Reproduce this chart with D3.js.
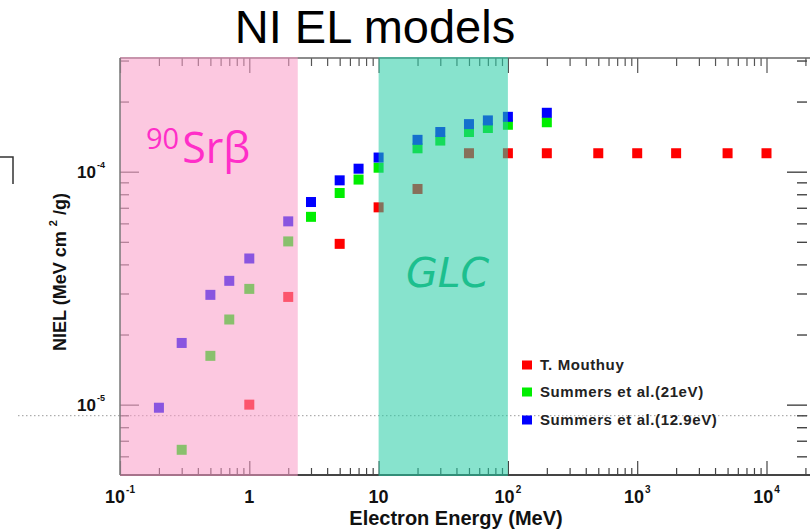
<!DOCTYPE html>
<html>
<head>
<meta charset="utf-8">
<script src="https://cdn.jsdelivr.net/npm/d3@7"></script>
<style>
  html, body { margin: 0; padding: 0; background: #fff; }
  svg { display: block; }
</style>
</head>
<body>
<svg id="chart" width="810" height="529"></svg>
<script>
// ---------------- data ----------------
const seriesNames = ["T. Mouthuy", "Summers et al.(21eV)", "Summers et al.(12.9eV)"];
const seriesColors = ["#ff0000", "#00ee00", "#0000ff"];

const energyRed = [1, 2, 5, 10, 20, 50, 100, 200, 500, 1000, 2000, 5000, 10000];
const nielRed = [1.0e-5, 2.9e-5, 4.9e-5, 7.03e-5, 8.43e-5, 1.2e-4, 1.2e-4, 1.2e-4, 1.2e-4, 1.2e-4, 1.2e-4, 1.2e-4, 1.2e-4];

const energyGreen = [0.3, 0.5, 0.7, 1, 2, 3, 5, 7, 10, 20, 30, 50, 70, 100, 200];
const nielGreen = [6.4e-6, 1.62e-5, 2.32e-5, 3.14e-5, 5.02e-5, 6.4e-5, 8.1e-5, 9.25e-5, 1.04e-4, 1.26e-4, 1.36e-4, 1.48e-4, 1.54e-4, 1.59e-4, 1.63e-4];

const energyBlue = [0.2, 0.3, 0.5, 0.7, 1, 2, 3, 5, 7, 10, 20, 30, 50, 70, 100, 200];
const nielBlue = [0.97e-5, 1.84e-5, 2.96e-5, 3.4e-5, 4.24e-5, 6.12e-5, 7.41e-5, 9.18e-5, 1.03e-4, 1.15e-4, 1.37e-4, 1.48e-4, 1.6e-4, 1.66e-4, 1.72e-4, 1.79e-4];

const regionNames = ["90Sr\u03b2", "GLC"];
const regionStart = [0.1, 10];
const regionEnd = [2.37, 100];

const xMajorTicks = [0.1, 1, 10, 100, 1000, 10000];
const xTickBase = ["10", "1", "10", "10", "10", "10"];
const xTickExp = ["-1", "", "", "2", "3", "4"];
const yMajorTicks = [1e-5, 1e-4];
const yTickExp = ["-5", "-4"];

// ---------------- layout ----------------
const svg = d3.select("#chart");
const L = 120, R = 809, T = 58, B = 475;
const decadePx = 129.3;
const x = d3.scaleLog().domain([0.1, Math.pow(10, (R - L) / decadePx - 1)]).range([L, R]);
const y = d3.scaleLog().domain([Math.pow(10, -5.302), Math.pow(10, -3.512)]).range([B, T]);

function minorTicks(scale) {
  const [a, b] = scale.domain();
  const out = [];
  for (let e = Math.floor(Math.log10(a)); e <= Math.ceil(Math.log10(b)); e++) {
    for (let m = 2; m <= 9; m++) {
      const v = m * Math.pow(10, e);
      if (v >= a && v <= b) out.push(v);
    }
  }
  return out;
}
const xMinor = minorTicks(x), yMinor = minorTicks(y);

// decorative bracket at left edge and dotted guide
svg.append("path").attr("d", "M0,157 H13 V184").attr("fill", "none").attr("stroke", "#333").attr("stroke-width", 1.5);
svg.append("line").attr("x1", 18).attr("x2", 810).attr("y1", 415.7).attr("y2", 415.7)
  .attr("stroke", "#9a9a9a").attr("stroke-width", 1).attr("stroke-dasharray", "1.5,2.5");

// ---------------- axes (ticks inward) ----------------
const axisG = svg.append("g");
function styleAxis(g, color, width) {
  g.select(".domain").remove();
  g.selectAll("line").attr("stroke", color).attr("stroke-width", width);
}
axisG.append("g").attr("transform", `translate(0,${B})`)
  .call(d3.axisBottom(x).tickValues(xMajorTicks).tickSize(-14).tickFormat("")).call(g => styleAxis(g, "#444", 1.2));
axisG.append("g").attr("transform", `translate(0,${B})`)
  .call(d3.axisBottom(x).tickValues(xMinor).tickSize(-7).tickFormat("")).call(g => styleAxis(g, "#444", 1.2));
axisG.append("g").attr("transform", `translate(0,${T})`)
  .call(d3.axisTop(x).tickValues(xMajorTicks).tickSize(-15).tickFormat("")).call(g => styleAxis(g, "#555", 1.2));
axisG.append("g").attr("transform", `translate(0,${T})`)
  .call(d3.axisTop(x).tickValues(xMinor).tickSize(-8).tickFormat("")).call(g => styleAxis(g, "#555", 1.2));
axisG.append("g").attr("transform", `translate(${L},0)`)
  .call(d3.axisLeft(y).tickValues(yMajorTicks).tickSize(-19).tickFormat("")).call(g => styleAxis(g, "#555", 1.2));
axisG.append("g").attr("transform", `translate(${L},0)`)
  .call(d3.axisLeft(y).tickValues(yMinor).tickSize(-9).tickFormat("")).call(g => styleAxis(g, "#555", 1.2));
axisG.append("g").attr("transform", `translate(${R - 2},0)`)
  .call(d3.axisRight(y).tickValues(yMajorTicks).tickSize(-20).tickFormat("")).call(g => styleAxis(g, "#444", 1.4));
axisG.append("g").attr("transform", `translate(${R - 2},0)`)
  .call(d3.axisRight(y).tickValues(yMinor).tickSize(-10).tickFormat("")).call(g => styleAxis(g, "#444", 1.4));
// frame lines
axisG.append("line").attr("x1", L).attr("x2", 810).attr("y1", T).attr("y2", T).attr("stroke", "#666").attr("stroke-width", 1.6);
axisG.append("line").attr("x1", L).attr("x2", 810).attr("y1", B).attr("y2", B).attr("stroke", "#444").attr("stroke-width", 2);

// ---------------- points ----------------
const series = [
  { e: energyRed, v: nielRed, c: seriesColors[0] },
  { e: energyGreen, v: nielGreen, c: seriesColors[1] },
  { e: energyBlue, v: nielBlue, c: seriesColors[2] }
];
const S = 10;
series.forEach(s => {
  svg.append("g").selectAll("rect").data(s.e.map((e, i) => [e, s.v[i]])).join("rect")
    .attr("x", d => x(d[0]) - S / 2).attr("y", d => y(d[1]) - S / 2)
    .attr("width", S).attr("height", S).attr("fill", s.c);
});

// ---------------- shaded regions (overlay) ----------------
const regionFill = ["#f99bc6", "#25cca4"];
svg.append("g").selectAll("rect").data(regionStart.map((s, i) => [s, regionEnd[i], regionFill[i]])).join("rect")
  .attr("x", d => x(d[0])).attr("y", T - 1).attr("width", d => x(d[1]) - x(d[0])).attr("height", B - T + 2)
  .attr("fill", d => d[2]).attr("opacity", 0.55);

// left axis line
svg.append("line").attr("x1", L).attr("x2", L).attr("y1", T).attr("y2", B).attr("stroke", "#777").attr("stroke-width", 1.5);

// ---------------- region labels ----------------
const sr = svg.append("text").attr("x", 146).attr("y", 163).attr("fill", "#ff2ec8")
  .attr("font-family", "'Open Sans', 'DejaVu Sans', sans-serif");
sr.append("tspan").attr("font-size", 29).attr("dy", -14).text("90");
sr.append("tspan").attr("font-size", 43).attr("dy", 14).attr("dx", 3).text(regionNames[0].slice(2));

svg.append("text").attr("x", 406).attr("y", 287).attr("fill", "#1dbf8e")
  .attr("font-family", "'DejaVu Sans', sans-serif").attr("font-style", "italic").attr("font-size", 41)
  .text(regionNames[1]);

// ---------------- tick labels ----------------
const tickFont = "'Liberation Sans', Arial, sans-serif";
xMajorTicks.forEach((v, i) => {
  const t = svg.append("text").attr("x", x(v)).attr("y", 503).attr("text-anchor", "middle")
    .attr("font-family", tickFont).attr("font-weight", "bold").attr("font-size", 18).attr("fill", "#111");
  t.append("tspan").text(xTickBase[i]);
  if (xTickExp[i]) t.append("tspan").attr("font-size", 10).attr("dy", -10).attr("dx", 1).text(xTickExp[i]);
});
yMajorTicks.forEach((v, i) => {
  const t = svg.append("text").attr("x", 105).attr("y", y(v) + 6).attr("text-anchor", "end")
    .attr("font-family", tickFont).attr("font-weight", "bold").attr("font-size", 17).attr("fill", "#111");
  t.append("tspan").text("10");
  t.append("tspan").attr("font-size", 9).attr("dy", -10).attr("dx", 1).text(yTickExp[i]);
});

// ---------------- axis titles ----------------
svg.append("text").attr("x", 456).attr("y", 525).attr("text-anchor", "middle")
  .attr("font-family", tickFont).attr("font-weight", "bold").attr("font-size", 20).attr("fill", "#111")
  .text("Electron Energy (MeV)");
const yt = svg.append("text").attr("transform", "translate(66,272) rotate(-90)").attr("text-anchor", "middle")
  .attr("font-family", tickFont).attr("font-weight", "bold").attr("font-size", 18).attr("fill", "#111");
yt.append("tspan").text("NIEL (MeV cm ");
yt.append("tspan").attr("font-size", 11).attr("dy", -9).text("2");
yt.append("tspan").attr("dy", 9).text(" /g)");

// ---------------- title ----------------
svg.append("text").attr("x", 375).attr("y", 43).attr("text-anchor", "middle")
  .attr("font-family", tickFont).attr("font-size", 47).attr("fill", "#000").text("NI EL models");

// ---------------- legend ----------------
const legY = [365, 392, 420];
seriesNames.forEach((n, i) => {
  svg.append("rect").attr("x", 522).attr("y", legY[i] - 4.5).attr("width", 10).attr("height", 9).attr("fill", seriesColors[i]);
  svg.append("text").attr("x", 540).attr("y", legY[i] + 5).attr("font-family", tickFont)
    .attr("font-weight", "bold").attr("font-size", 15).attr("letter-spacing", 0.6).attr("fill", "#222").text(n);
});
</script>
</body>
</html>
